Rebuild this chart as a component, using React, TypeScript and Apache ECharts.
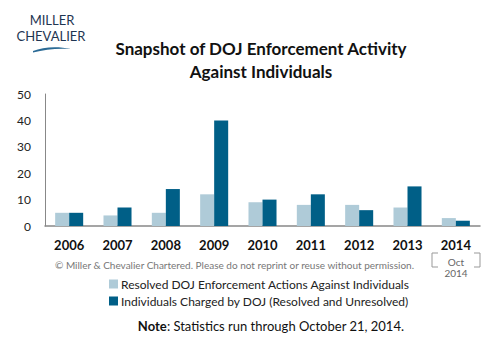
import React, { useEffect, useRef } from "react";
import * as echarts from "echarts";

const years = ["2006", "2007", "2008", "2009", "2010", "2011", "2012", "2013", "2014"];
const resolved = [5, 4, 5, 12, 9, 8, 8, 7, 3];
const charged = [5, 7, 14, 40, 10, 12, 6, 15, 2];
const yTicks = { min: 0, max: 50, interval: 10 };
const seriesNames = [
  "Resolved DOJ Enforcement Actions Against Individuals",
  "Individuals Charged by DOJ (Resolved and Unresolved)",
];

echarts.graphic.registerShape(
  "swoosh",
  echarts.graphic.extendPath("M0,5 C10,1 24,0 38,3 C24,2 12,3.5 0,6.5 Z", {})
);

export default function App() {
  const ref = useRef<HTMLDivElement>(null);
  useEffect(() => {
    const chart = echarts.init(ref.current!, null, { renderer: "svg" });
    const font = "Lato, 'Open Sans', sans-serif";
    chart.setOption({
      animation: false,
      textStyle: { fontFamily: font },
      grid: { left: 45, right: 19, top: 94, bottom: 133, containLabel: false },
      legend: {
        orient: "vertical",
        left: 104,
        top: 273,
        itemWidth: 9,
        itemHeight: 9,
        itemGap: 5,
        icon: "rect",
        textStyle: { fontSize: 12, color: "#222", fontFamily: font, padding: [0, 0, 0, -2] },
        data: seriesNames,
      },
      xAxis: {
        type: "category",
        data: years,
        axisLine: { lineStyle: { color: "#888", width: 1.5 } },
        axisTick: { show: false },
        axisLabel: { fontSize: 13, fontWeight: "bold", color: "#111", margin: 12, fontFamily: font },
      },
      yAxis: {
        type: "value",
        min: yTicks.min,
        max: yTicks.max,
        interval: yTicks.interval,
        splitLine: { show: false },
        axisLine: { show: true, lineStyle: { color: "#888", width: 1 } },
        axisTick: { show: false },
        axisLabel: { fontSize: 12, color: "#222", margin: 14, fontFamily: font },
      },
      series: [
        {
          name: seriesNames[0],
          type: "bar",
          data: resolved,
          itemStyle: { color: "#afcbd8" },
          barGap: "0%",
          barCategoryGap: "42%",
        },
        {
          name: seriesNames[1],
          type: "bar",
          data: charged,
          itemStyle: { color: "#005f87" },
          barGap: "0%",
          barCategoryGap: "42%",
        },
      ],
      graphic: [
        {
          type: "text",
          x: 261,
          y: 37,
          style: {
            text: "Snapshot of DOJ Enforcement Activity\nAgainst Individuals",
            align: "center",
            fontSize: 17,
            fontWeight: "bold",
            lineHeight: 23,
            fill: "#111",
            fontFamily: font,
          },
        },
        {
          type: "text",
          x: 52,
          y: 20,
          style: {
            text: "MILLER",
            align: "center",
            verticalAlign: "middle",
            fontSize: 13,
            fill: "#1e3552",
            fontFamily: font,
            letterSpacing: 1,
          },
        },
        {
          type: "text",
          x: 51,
          y: 36,
          style: {
            text: "CHEVALIER",
            align: "center",
            verticalAlign: "middle",
            fontSize: 13,
            fill: "#1e3552",
            fontFamily: font,
            letterSpacing: 1,
          },
        },
        {
          type: "swoosh",
          x: 33,
          y: 46,
          style: { fill: "#2a6a95" },
        },
        {
          type: "text",
          left: 55,
          top: 260,
          style: {
            text: "© Miller & Chevalier Chartered. Please do not reprint or reuse without permission.",
            fontSize: 10,
            fill: "#777",
            fontFamily: font,
          },
        },
        {
          type: "polyline",
          shape: { points: [[438, 253], [432, 253], [432, 267], [438, 267]] },
          style: { stroke: "#999", lineWidth: 1, fill: null },
        },
        {
          type: "polyline",
          shape: { points: [[474, 253], [480, 253], [480, 267], [474, 267]] },
          style: { stroke: "#999", lineWidth: 1, fill: null },
        },
        {
          type: "text",
          x: 456,
          y: 256,
          style: {
            text: "Oct\n2014",
            fontSize: 10,
            fill: "#666",
            align: "center",
            lineHeight: 11,
            fontFamily: font,
          },
        },
        {
          type: "text",
          x: 271,
          y: 319,
          style: {
            text: "{b|Note}: Statistics run through October 21, 2014.",
            align: "center",
            fontSize: 13,
            fill: "#111",
            fontFamily: font,
            rich: { b: { fontWeight: "bold", fontSize: 13, fill: "#111", fontFamily: font } },
          },
        },
      ],
    });
    return () => chart.dispose();
  }, []);
  return <div ref={ref} style={{ width: 499, height: 359, position: "absolute", left: 0, top: 0 }} />;
}
